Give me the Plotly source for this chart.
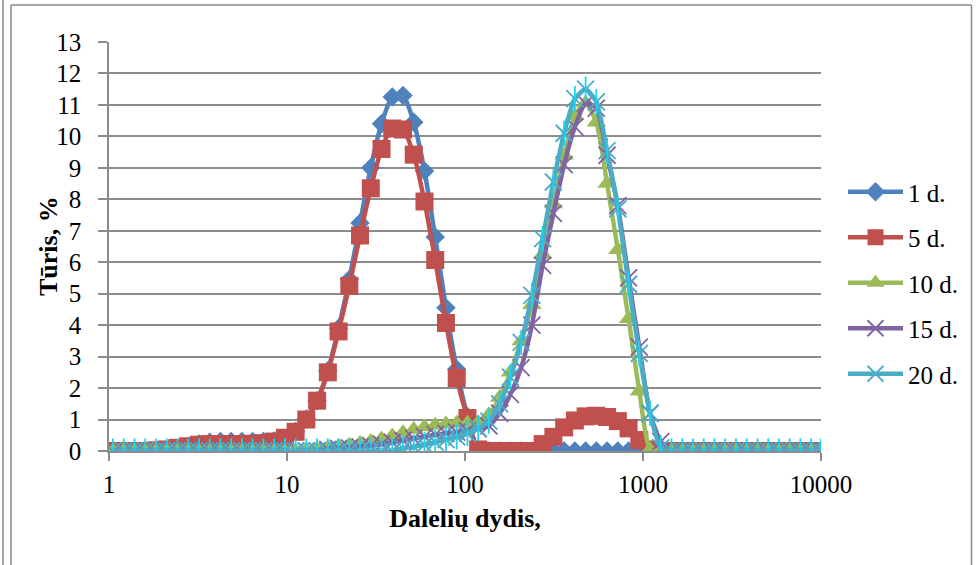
import plotly.graph_objects as go

# Particle size classes (µm), logarithmic bins
size_um = [
    1.053, 1.210, 1.391, 1.598, 1.836, 2.110, 2.424, 2.786, 3.201, 3.678,
    4.226, 4.856, 5.580, 6.411, 7.367, 8.465, 9.726, 11.18, 12.84, 14.76,
    16.96, 19.48, 22.39, 25.72, 29.56, 33.96, 39.02, 44.84, 51.52, 59.21,
    68.03, 78.17, 89.83, 103.2, 118.6, 136.3, 156.6, 179.9, 206.8, 237.6,
    273.0, 313.7, 360.5, 414.2, 475.9, 546.9, 628.4, 722.1, 829.7, 953.4,
    1095, 1259, 1446, 1662, 1910, 2194, 2521, 2897, 3329, 3825,
    4395, 5050, 5803, 6668, 7662, 8804, 10000,
]

# Volume fraction (%) per size class for each sampling day
day1 = [
    0, 0, 0, 0, 0, 0, 0.08, 0.15, 0.22, 0.28,
    0.3, 0.3, 0.3, 0.3, 0.3, 0.32, 0.4, 0.62, 1.02, 1.6,
    2.55, 3.9, 5.45, 7.25, 9.0, 10.4, 11.25, 11.3, 10.45, 8.9,
    6.8, 4.55, 2.6, 1.1, 0, 0, 0, 0, 0, 0,
    0, 0, 0, 0, 0, 0, 0, 0, 0, 0,
    0, 0, 0, 0, 0, 0, 0, 0, 0, 0,
    0, 0, 0, 0, 0, 0, 0,
]
day5 = [
    0, 0, 0, 0, 0.02, 0.05, 0.1, 0.15, 0.2, 0.22,
    0.22, 0.22, 0.22, 0.23, 0.25, 0.3, 0.42, 0.61, 1.0, 1.6,
    2.5, 3.8, 5.25, 6.85, 8.35, 9.6, 10.25, 10.22, 9.42, 7.93,
    6.07, 4.07, 2.32, 1.05, 0.05, 0, 0, 0, 0, 0,
    0.22, 0.45, 0.75, 0.97, 1.1, 1.12, 1.08, 0.95, 0.72, 0.35,
    0.05, 0, 0, 0, 0, 0, 0, 0, 0, 0,
    0, 0, 0, 0, 0, 0, 0,
]
day10 = [
    0, 0, 0, 0, 0, 0, 0, 0, 0, 0,
    0, 0, 0, 0, 0, 0, 0, 0, 0.03, 0.06,
    0.1, 0.14, 0.18, 0.24, 0.3, 0.38, 0.48, 0.58, 0.68, 0.76,
    0.82, 0.86, 0.88, 0.88, 0.9, 1.15, 1.7, 2.5, 3.5, 4.65,
    6.25, 7.85, 9.4, 10.65, 11.05, 10.45, 8.5, 6.4, 4.2, 1.9,
    0.05, 0, 0, 0, 0, 0, 0, 0, 0, 0,
    0, 0, 0, 0, 0, 0, 0,
]
day15 = [
    0, 0, 0, 0, 0, 0, 0, 0, 0, 0,
    0, 0, 0, 0, 0, 0, 0, 0, 0, 0,
    0.05, 0.08, 0.1, 0.13, 0.17, 0.22, 0.28, 0.34, 0.4, 0.46,
    0.52, 0.56, 0.6, 0.65, 0.7, 0.8, 1.2, 1.8, 2.65, 4.0,
    5.9, 7.55, 9.1, 10.3, 11.05, 10.9, 9.4, 7.8, 5.5, 3.3,
    1.2, 0.3, 0, 0, 0, 0, 0, 0, 0, 0,
    0, 0, 0, 0, 0, 0, 0,
]
day20 = [
    0, 0, 0, 0, 0, 0, 0, 0, 0, 0,
    0, 0, 0, 0, 0, 0, 0, 0, 0, 0,
    0, 0, 0, 0, 0, 0, 0, 0.08, 0.13, 0.2,
    0.28, 0.36, 0.45, 0.56, 0.72, 0.95, 1.5, 2.35, 3.45, 4.95,
    6.75, 8.55, 10.1, 11.2, 11.5, 11.1, 9.55, 7.7, 5.3, 3.1,
    1.2, 0.1, 0, 0, 0, 0, 0, 0, 0, 0,
    0, 0, 0, 0, 0, 0, 0,
]

series_names = ["1 d.", "5 d.", "10 d.", "15 d.", "20 d."]
x_tick_values = [1, 10, 100, 1000, 10000]
x_tick_labels = ["1", "10", "100", "1000", "10000"]
y_tick_values = list(range(0, 14))

FONT = "Liberation Serif, Times New Roman, serif"
GRID = "#8c8c8c"
LW = 4.5

fig = go.Figure()

styles = [
    (day1, "#4F81BD", dict(symbol="diamond", size=15)),
    (day5, "#C0504D", dict(symbol="square", size=18)),
    (day10, "#9BBB59", dict(symbol="triangle-up", size=17)),
    (day15, "#8064A2", dict(symbol="x-thin-open", size=17, line=dict(width=1.8, color="#8064A2"))),
    (day20, "#4BACC6", dict(symbol="x-thin-open", size=17, line=dict(width=1.8, color="#4BACC6"))),
]

for name, (vals, color, mk) in zip(series_names, styles):
    mk = dict(mk)
    mk.setdefault("color", color)
    fig.add_trace(go.Scatter(
        x=size_um, y=vals, name=name, legendgroup=name,
        mode="lines+markers",
        line=dict(color=color, width=LW, shape="spline", smoothing=0.6),
        marker=mk,
    ))
    if name == "20 d.":
        # vertical stroke completing the six-armed star marker
        fig.add_trace(go.Scatter(
            x=size_um, y=vals, name=name, legendgroup=name, showlegend=False,
            mode="markers", hoverinfo="skip",
            marker=dict(symbol="line-ns-open", size=18,
                        line=dict(width=1.8, color=color)),
        ))

# plot area spans px 109..821 horizontally and 42..451 vertically
W, H = 980, 565
L, R, T, B = 109, 159, 42, 114
pw, ph = W - L - R, H - T - B


def px_x(p):
    return (p - L) / pw


def px_y(p):
    return (H - B - p) / ph


frame = dict(type="line", xref="paper", yref="paper",
             line=dict(color="#8a8a8a", width=1.5), layer="above")
shapes = [
    dict(frame, x0=px_x(3), x1=px_x(3), y0=px_y(0), y1=px_y(H)),
    dict(frame, x0=px_x(11), x1=px_x(11), y0=px_y(5), y1=px_y(H)),
    dict(frame, x0=px_x(11), x1=px_x(971.5), y0=px_y(5), y1=px_y(5)),
    dict(frame, x0=px_x(971.5), x1=px_x(971.5), y0=px_y(5), y1=px_y(H)),
]

fig.update_layout(
    width=W, height=H,
    margin=dict(l=L, r=R, t=T, b=B, pad=0),
    paper_bgcolor="white", plot_bgcolor="white",
    font=dict(family=FONT, size=25, color="black"),
    showlegend=True,
    legend=dict(
        x=px_x(843), xanchor="left", y=px_y(169), yanchor="top",
        font=dict(family=FONT, size=25, color="black"),
        itemwidth=55, tracegroupgap=10, traceorder="grouped",
        bgcolor="rgba(0,0,0,0)", borderwidth=0,
    ),
    xaxis=dict(
        type="log", range=[0, 4],
        tickmode="array", tickvals=x_tick_values, ticktext=x_tick_labels,
        showgrid=False, zeroline=False,
        showline=True, linecolor=GRID, linewidth=1.5,
        ticks="outside", ticklen=8, tickwidth=1.5, tickcolor=GRID,
        ticklabelstandoff=2,
        tickfont=dict(family=FONT, size=25, color="black"),
        title=dict(text="<b>Dalelių dydis,</b>", standoff=12,
                   font=dict(family=FONT, size=26, color="black")),
    ),
    yaxis=dict(
        range=[0, 13],
        tickmode="array", tickvals=y_tick_values,
        showgrid=True, gridcolor=GRID, gridwidth=1.5, zeroline=False,
        showline=True, linecolor=GRID, linewidth=1.5,
        ticks="outside", ticklen=9, tickwidth=1.5, tickcolor=GRID,
        ticklabelstandoff=12,
        tickfont=dict(family=FONT, size=25, color="black"),
    ),
    annotations=[dict(
        text="<b>Tūris, %</b>", textangle=-90, showarrow=False,
        xref="paper", yref="paper", x=px_x(48), y=px_y(246),
        xanchor="center", yanchor="middle",
        font=dict(family=FONT, size=26, color="black"),
    )],
    shapes=shapes,
)

fig.write_html("out.html")
